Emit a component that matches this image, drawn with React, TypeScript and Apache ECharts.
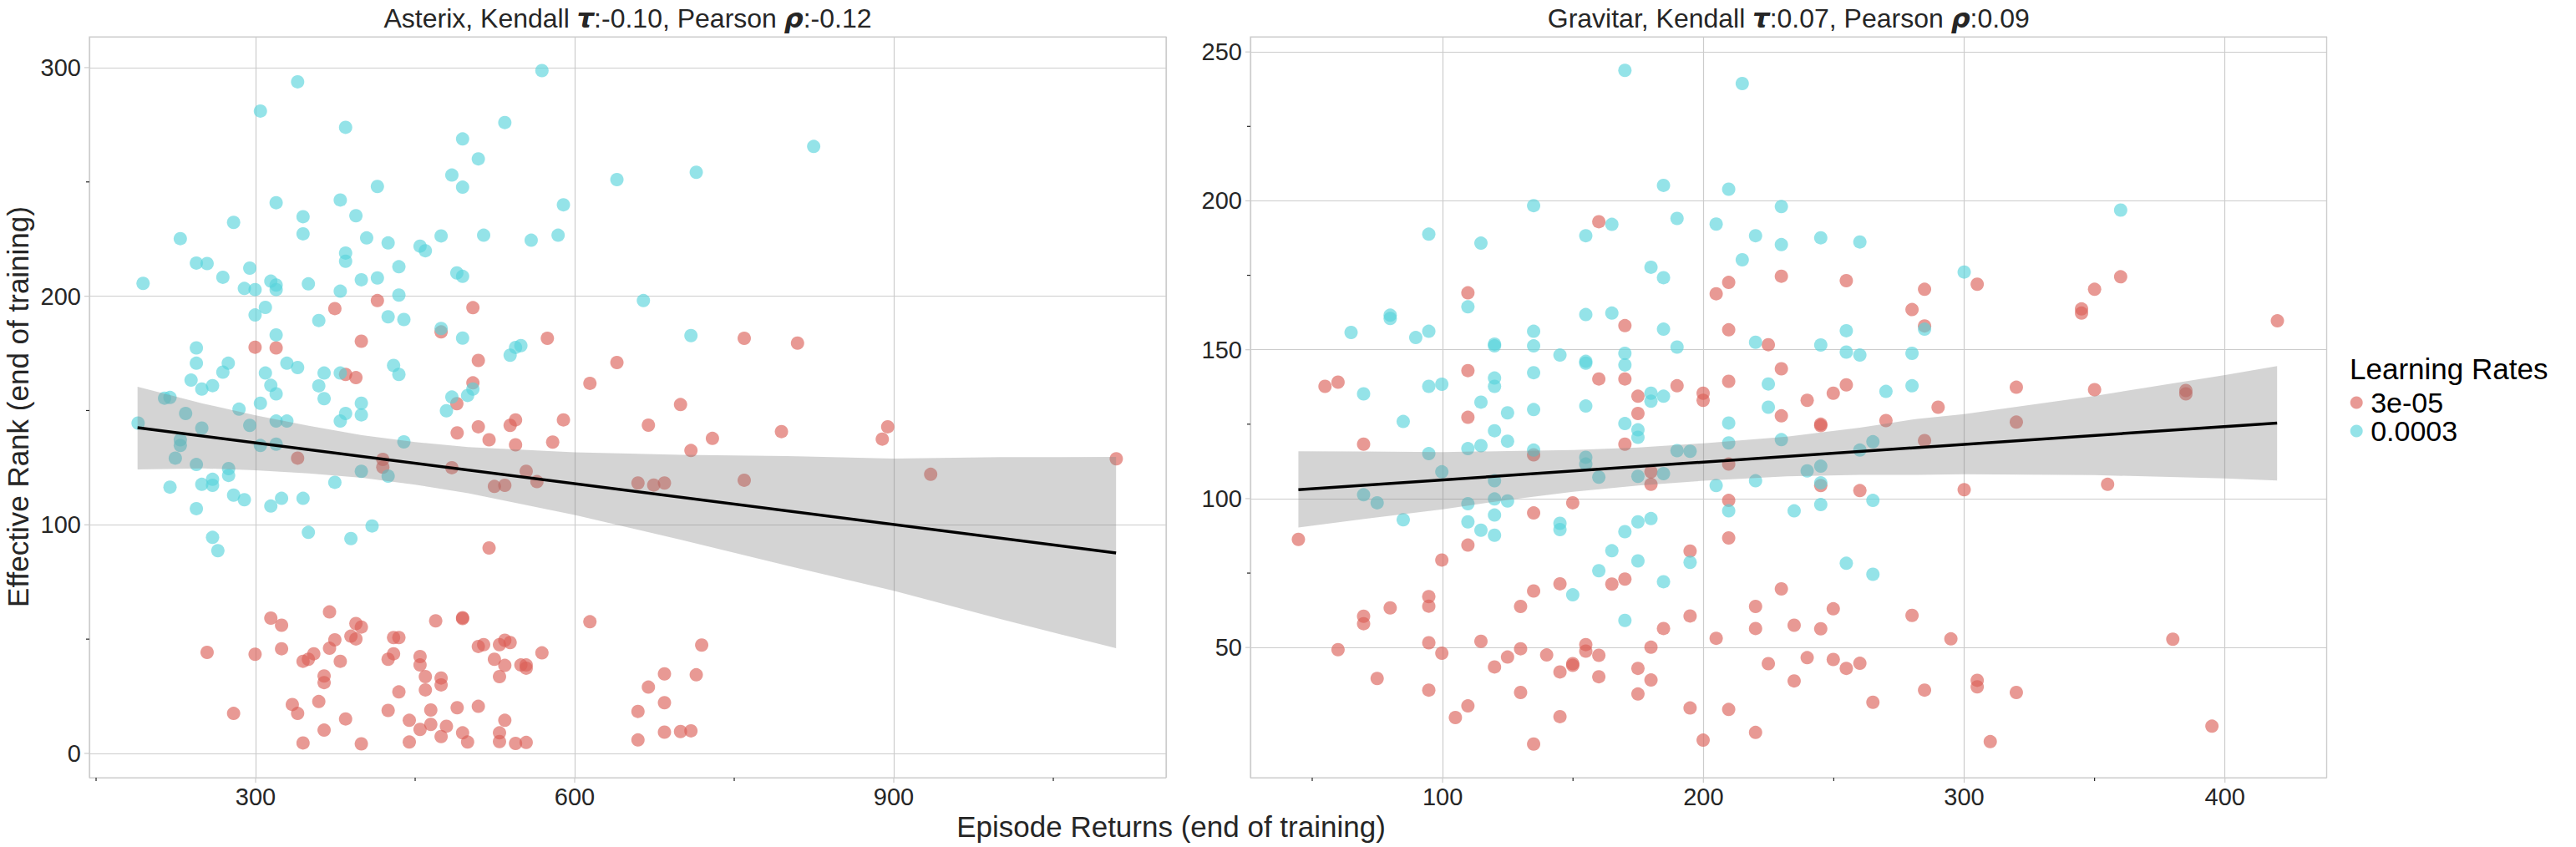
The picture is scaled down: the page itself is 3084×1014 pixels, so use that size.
import React, { useEffect, useRef } from "react";
import * as echarts from "echarts";

const FONT = '"Liberation Sans", Arial, sans-serif';
const GREEK = '"DejaVu Sans", "Liberation Sans", sans-serif';
const TXT = "#262626";
const GRID = "#cccccc";
const RED = "rgba(219,95,87,0.8)";
const CYAN = "rgba(87,211,219,0.8)";

// axis ranges
const leftXRange = [143.7, 1156];
const leftYRange = [-10.6, 313.5];
const rightXRange = [26.3, 439];
const rightYRange = [6.3, 255.1];

// tick labels
const leftXTicks = [300, 600, 900];
const leftYTicks = [0, 100, 200, 300];
const rightXTicks = [100, 200, 300, 400];
const rightYTicks = [50, 100, 150, 200, 250];
const leftXMinor = [150, 450, 750, 1050];
const leftYMinor = [50, 150, 250];
const rightXMinor = [50, 150, 250, 350];
const rightYMinor = [75, 125, 175, 225];

const legendNames = ["3e-05", "0.0003"];

// Asterix: learning rate 0.0003
const leftCyan = [
  [194.2,205.6],[229.2,225.2],[244.3,214.5],[254.4,214.3],[269.2,208.3],[279.3,232.3],[294.5,212.3],[289.4,203.4],[299.5,202.9],[304.5,281.0],
  [339.5,293.8],[319.3,240.9],[344.6,234.8],[344.6,227.3],[314.3,206.6],[319.3,204.9],[319.3,202.9],[349.6,205.4],[309.2,195.1],[299.5,191.8],
  [359.4,189.4],[319.3,183.1],[379.6,242.1],[384.6,273.9],[394.3,235.2],[404.4,225.5],[384.6,218.9],[384.6,215.3],[399.4,207.2],[379.6,202.2],
  [414.5,248.0],[414.5,208.0],[424.6,223.3],[434.7,212.9],[434.7,200.5],[424.6,191.0],[439.4,189.8],[454.6,221.9],[459.6,219.9],[474.4,226.4],
  [484.5,253.0],[494.6,268.8],[509.4,260.1],[494.6,247.7],[514.4,226.7],[489.2,210.2],[494.6,208.7],[474.4,185.9],[494.6,181.7],[534.3,276.0],
  [569.2,298.7],[559.1,224.5],[584.4,226.7],[589.4,240.0],[544.4,177.6],[549.4,178.4],[539.3,174.2],[484.5,155.9],[479.4,149.9],[499.3,156.6],
  [504.3,159.4],[429.7,169.7],[434.7,165.8],[379.6,166.4],[364.4,166.4],[359.4,160.8],[364.4,155.2],[399.4,153.2],[384.6,148.7],[399.4,148.1],
  [379.6,145.4],[304.5,153.2],[284.4,150.6],[319.3,145.4],[329.4,145.4],[314.3,161.0],[319.3,157.3],[309.2,166.4],[329.4,170.7],[339.5,168.8],
  [274.3,170.7],[269.2,166.8],[244.3,177.4],[244.3,170.7],[239.3,163.3],[249.4,159.4],[259.5,160.9],[214.4,155.4],[219.5,155.7],[234.2,148.7],
  [189.5,144.5],[249.4,142.3],[294.5,143.5],[229.2,137.2],[229.2,134.7],[224.5,129.2],[244.3,126.4],[274.6,124.6],[274.6,121.6],[259.5,119.9],
  [259.5,117.3],[249.4,117.7],[219.5,116.5],[279.3,113.0],[289.4,111.0],[244.3,107.1],[314.3,108.2],[324.4,111.6],[344.6,111.6],[304.5,134.7],
  [319.3,135.3],[374.5,118.6],[399.4,123.4],[424.6,121.3],[439.4,136.3],[409.5,99.5],[349.6,96.7],[389.6,94.0],[259.5,94.5],[264.5,88.7],
  [824.7,265.5],[714.3,254.2],[639.7,251.0],[664.6,198.1],[709.3,182.8]
];

// Asterix: learning rate 3e-05
const leftRed = [
  [374.5,194.6],[414.5,198.1],[504.3,195.0],[299.5,177.7],[319.3,177.4],[399.4,180.3],[474.4,184.4],[574.3,181.6],[509.4,171.9],[384.6,165.8],
  [394.3,164.4],[504.3,162.1],[489.2,153.0],[614.3,161.9],[544.4,145.9],[589.4,145.9],[759.4,181.6],[809.5,179.5],[639.7,171.0],[699.5,152.6],
  [339.5,129.2],[419.6,128.6],[419.6,125.2],[484.5,125.0],[489.5,140.2],[509.4,142.9],[519.5,137.2],[539.3,143.5],[544.4,135.0],[579.3,136.2],
  [554.4,123.4],[564.5,118.9],[524.5,116.8],[534.3,117.3],[519.5,89.9],[669.3,143.6],[729.5,137.8],[709.3,132.5],[794.4,140.8],[894.3,142.9],
  [889.2,137.5],[659.5,118.3],[674.3,117.4],[684.4,118.3],[759.4,119.5],[934.7,122.1],[1109.2,128.9],
  [254.4,44.2],[279.3,17.5],[299.5,43.4],[314.3,59.2],[324.4,56.1],[324.4,45.8],[334.5,21.4],[339.5,17.5],[344.6,40.3],[349.6,41.2],
  [354.7,43.6],[344.6,4.6],[359.4,22.7],[364.4,33.9],[364.4,31.0],[364.4,10.2],[369.5,46.0],[374.5,49.7],[369.5,61.9],[379.6,40.3],
  [384.6,15.1],[389.6,51.3],[394.3,56.8],[399.4,55.3],[394.3,50.1],[399.4,4.2],[424.6,41.2],[429.7,43.6],[429.7,50.7],[434.7,50.7],
  [424.6,18.8],[434.7,26.9],[444.5,14.5],[444.5,5.0],[454.6,42.4],[454.6,38.7],[459.6,33.6],[459.6,27.8],[454.6,10.5],[464.7,19.0],
  [464.7,12.7],[469.3,58.0],[474.4,33.0],[474.4,30.0],[474.4,7.4],[479.4,11.9],[489.5,20.0],[494.6,59.4],[494.6,59.0],[494.6,9.0],
  [499.3,5.0],[509.4,20.6],[509.4,46.8],[514.4,47.6],[524.5,41.2],[529.3,47.6],[534.3,49.5],[539.3,48.5],[534.3,38.5],[529.3,33.6],
  [534.3,14.5],[529.3,9.0],[529.3,5.2],[544.4,4.4],[554.4,4.8],[549.4,38.7],[554.4,38.7],[554.4,37.3],[569.2,44.0],[614.3,57.6],
  [719.4,47.4],[684.4,34.8],[714.3,34.4],[669.3,29.0],[684.4,22.2],[659.5,18.4],[659.5,5.9],[684.4,9.3],[699.5,9.6],[709.3,9.9]
];

// Gravitar: learning rate 0.0003
const rightCyan = [
  [169.9,243.8],[214.9,239.4],[184.7,205.2],[209.7,203.9],[134.9,198.4],[164.9,192.1],[189.9,194.1],[204.9,192.2],[229.9,198.1],[94.7,188.8],
  [114.7,185.8],[154.9,188.3],[220.0,188.3],[229.9,185.3],[214.9,180.2],[179.9,177.7],[184.7,174.2],[109.7,164.4],[79.9,161.6],[79.9,160.5],
  [64.9,155.8],[89.7,154.1],[94.7,156.2],[119.9,151.9],[119.9,151.3],[134.9,156.2],[134.9,151.3],[154.9,161.8],[164.9,162.3],[184.7,156.9],
  [189.9,150.9],[220.0,152.5],[145.0,148.2],[154.9,146.1],[154.9,145.5],[169.9,148.8],[169.9,144.9],[134.9,142.3],[119.9,140.5],[119.9,137.7],
  [99.7,138.4],[94.7,137.7],[69.7,135.2],[114.7,132.4],[124.9,128.8],[134.9,129.9],[154.9,131.1],[179.9,135.4],[179.9,132.7],[184.7,134.4],
  [224.9,138.5],[224.9,130.7],[245.0,187.6],[260.0,186.2],[360.0,196.9],[300.0,176.1],[254.8,156.4],[245.0,151.6],[254.8,149.2],[260.0,148.2],
  [280.0,148.8],[284.8,156.9],[270.0,136.0],[280.0,137.9],[84.9,125.9],[119.9,122.8],[124.9,119.3],[114.7,117.8],[109.7,116.8],[94.7,115.1],
  [134.9,116.3],[99.7,109.0],[154.9,113.9],[154.9,111.6],[159.9,107.2],[169.9,125.2],[174.9,123.1],[174.9,120.6],[174.9,107.5],[184.7,108.4],
  [189.9,116.1],[194.9,115.9],[209.7,125.4],[209.7,118.7],[229.9,119.8],[204.9,104.4],[220.0,106.0],[69.7,101.3],[74.9,98.6],[84.9,92.9],
  [109.7,98.3],[119.9,99.9],[124.9,99.2],[119.9,106.0],[109.7,92.2],[119.9,94.5],[114.7,89.4],[119.9,87.7],[145.0,91.7],[145.0,89.6],
  [169.9,88.9],[174.9,92.2],[179.9,93.3],[209.7,95.9],[164.9,82.5],[174.9,79.1],[194.9,78.6],[159.9,75.8],[184.7,72.1],[149.9,67.7],
  [169.9,59.1],[265.0,119.1],[260.0,116.3],[239.8,109.3],[245.0,110.9],[245.0,105.3],[234.8,95.9],[245.0,98.0],[265.0,99.4],[254.8,78.3],
  [265.0,74.6]
];

// Gravitar: learning rate 3e-05
const rightRed = [
  [159.9,193.0],[109.7,169.1],[204.9,168.8],[209.7,172.6],[229.9,174.7],[169.9,158.1],[209.7,156.7],[224.9,151.7],[109.7,143.0],[54.9,137.7],
  [59.9,139.1],[159.9,140.2],[169.9,140.2],[189.9,137.9],[209.7,139.4],[229.9,143.6],[199.9,135.4],[199.9,133.0],[174.9,134.4],[174.9,128.6],
  [229.9,127.8],[109.7,127.3],[254.8,173.2],[284.8,170.3],[305.0,172.0],[350.0,170.3],[360.0,174.5],[280.0,163.5],[345.0,163.7],[345.0,162.3],
  [284.8,158.0],[420.1,159.7],[254.8,138.2],[249.8,135.4],[239.8,133.0],[290.0,130.7],[320.0,137.4],[350.0,136.6],[385.0,136.3],[385.0,135.2],
  [69.7,118.3],[134.9,114.7],[169.9,118.3],[179.9,109.0],[179.9,104.8],[209.7,111.6],[44.7,86.3],[134.9,95.2],[149.9,98.6],[209.7,99.4],
  [209.7,86.8],[109.7,84.4],[99.7,79.4],[194.9,82.4],[145.0,71.4],[164.9,71.3],[169.9,73.0],[134.9,69.0],[229.9,69.7],[94.7,67.1],
  [94.7,63.9],[79.9,63.3],[69.7,60.5],[69.7,58.0],[129.9,63.8],[194.9,60.6],[220.0,63.8],[184.7,56.4],[220.0,56.4],[204.9,53.1],
  [59.9,49.3],[94.7,51.6],[114.7,52.1],[99.7,48.1],[129.9,49.6],[124.9,46.8],[119.9,43.5],[139.9,47.5],[154.9,51.0],[154.9,48.8],
  [159.9,47.4],[149.9,44.6],[149.9,44.0],[145.0,41.8],[159.9,40.2],[174.9,43.0],[179.9,50.1],[179.9,39.1],[224.9,44.6],[74.9,39.6],
  [94.7,35.7],[129.9,34.9],[174.9,34.4],[109.7,30.4],[104.9,26.5],[145.0,26.8],[194.9,29.7],[209.7,29.2],[220.0,21.5],[199.9,18.9],
  [134.9,17.6],[245.0,125.0],[245.0,124.5],[270.0,126.2],[320.0,125.7],[284.8,119.5],[245.0,104.4],[260.0,102.7],[300.0,103.0],[355.0,104.8],
  [249.8,63.0],[280.0,60.8],[234.8,57.5],[245.0,56.3],[294.9,52.9],[380.0,52.8],[239.8,46.6],[249.8,46.0],[254.8,43.0],[260.0,44.7],
  [234.8,38.8],[284.8,35.7],[305.0,39.0],[305.0,36.8],[320.0,34.9],[265.0,31.6],[310.0,18.4],[395.0,23.6]
];

// regression lines (end points)
const leftFit = [[189, 142.5], [1109, 87.7]];
const rightFit = [[44.7, 103.0], [420, 125.4]];

// confidence bands
const leftBandX = [189, 250, 300, 350, 400, 450, 500, 600, 700, 800, 900, 1000, 1109];
const leftBandLow = [124.2, 124.7, 123.9, 122.5, 120.6, 117.6, 113.8, 104.3, 93.4, 82.1, 71.2, 58.8, 46.0];
const leftBandHigh = [160.4, 153.1, 147.9, 143.3, 139.2, 136.2, 134.0, 131.7, 130.6, 130.1, 129.0, 129.6, 129.7];
const rightBandX = [44.7, 70, 100, 125, 150, 175, 200, 232, 260, 282, 300, 350, 400, 420];
const rightBandLow = [90.3, 93.2, 96.4, 99.6, 102.3, 104.4, 106.0, 107.5, 108.0, 108.0, 108.2, 107.9, 106.8, 106.1];
const rightBandHigh = [115.9, 115.8, 115.6, 116.0, 116.3, 117.2, 118.6, 120.8, 123.8, 126.8, 128.4, 134.5, 141.5, 144.5];

function makeBand(xs: number[], lo: number[], hi: number[]) {
  return (params: any, api: any) => {
    if (params.dataIndex !== 0) return null;
    const pts: number[][] = [];
    for (let i = 0; i < xs.length; i++) pts.push(api.coord([xs[i], hi[i]]));
    for (let i = xs.length - 1; i >= 0; i--) pts.push(api.coord([xs[i], lo[i]]));
    return { type: "polygon", shape: { points: pts }, style: { fill: "rgba(128,128,128,0.34)" } };
  };
}

function tickSeries(idx: number, dir: "x" | "y", major: number[], minor: number[], other: number) {
  const data = [
    ...major.map((v) => (dir === "x" ? [v, other, 0] : [other, v, 0])),
    ...minor.map((v) => (dir === "x" ? [v, other, 1] : [other, v, 1])),
  ];
  return {
    type: "custom",
    xAxisIndex: idx,
    yAxisIndex: idx,
    clip: false,
    silent: true,
    z: 5,
    data,
    renderItem: (params: any, api: any) => {
      const isMinor = api.value(2) === 1;
      const p = api.coord([api.value(0), api.value(1)]);
      const len = isMinor ? 4 : 6;
      const shape = dir === "x"
        ? { x1: p[0], y1: p[1], x2: p[0], y2: p[1] + len }
        : { x1: p[0] - len, y1: p[1], x2: p[0], y2: p[1] };
      return {
        type: "line",
        shape,
        style: { stroke: isMinor ? TXT : GRID, lineWidth: isMinor ? 1.2 : 1.2 },
      };
    },
  };
}

function labelFmt(ticks: number[]) {
  return (v: number) => (ticks.some((t) => Math.abs(t - v) < 1e-6) ? String(v) : "");
}

function xAxisCfg(idx: number, range: number[], ticks: number[]) {
  return {
    type: "value",
    gridIndex: idx,
    min: range[0],
    max: range[1],
    splitNumber: 3,
    axisLine: { show: false },
    axisTick: { show: false },
    splitLine: { show: true, lineStyle: { color: GRID, width: 1.2 } },
    axisLabel: { formatter: labelFmt(ticks), margin: 8, fontSize: 29, color: TXT, fontFamily: FONT },
  };
}

function yAxisCfg(idx: number, range: number[], ticks: number[], split: number) {
  return {
    type: "value",
    gridIndex: idx,
    min: range[0],
    max: range[1],
    splitNumber: split,
    axisLine: { show: false },
    axisTick: { show: false },
    splitLine: { show: true, lineStyle: { color: GRID, width: 1.2 } },
    axisLabel: { formatter: labelFmt(ticks), margin: 10, fontSize: 29, color: TXT, fontFamily: FONT },
  };
}

function scatter(idx: number, name: string, data: number[][], color: string) {
  return {
    type: "scatter",
    name,
    xAxisIndex: idx,
    yAxisIndex: idx,
    data,
    symbol: "circle",
    symbolSize: 16,
    itemStyle: { color },
    silent: true,
    z: 2,
  };
}

function titleText(x: number, game: string, tau: string, rho: string) {
  return {
    type: "text",
    x,
    y: 22,
    silent: true,
    style: {
      text: `{n|${game}, Kendall }{g|τ}{n|:${tau}, Pearson }{g|ρ}{n|:${rho}}`,
      align: "center",
      verticalAlign: "middle",
      rich: {
        n: { fontSize: 32, fontFamily: FONT, fill: TXT },
        g: { fontSize: 32, fontFamily: GREEK, fontWeight: "bold", fontStyle: "italic", fill: TXT },
      },
    },
  };
}

export default function App() {
  const ref = useRef<HTMLDivElement>(null);
  useEffect(() => {
    if (!ref.current) return;
    const chart = echarts.init(ref.current, null, { renderer: "svg" });
    const option: any = {
      animation: false,
      backgroundColor: "#ffffff",
      grid: [
        { left: 107, top: 44, width: 1289, height: 887, show: true, borderColor: GRID, borderWidth: 1.2, backgroundColor: "transparent" },
        { left: 1497, top: 44, width: 1288.5, height: 887, show: true, borderColor: GRID, borderWidth: 1.2, backgroundColor: "transparent" },
      ],
      xAxis: [xAxisCfg(0, leftXRange, leftXTicks), xAxisCfg(1, rightXRange, rightXTicks)],
      yAxis: [yAxisCfg(0, leftYRange, leftYTicks, 3), yAxisCfg(1, rightYRange, rightYTicks, 5)],
      legend: {
        data: legendNames,
        orient: "vertical",
        left: 2813.7,
        top: 465,
        itemWidth: 24,
        itemHeight: 15,
        itemGap: 0,
        icon: "circle",
        selectedMode: false,
        padding: 0,
        textStyle: { fontSize: 34, color: "#000000", fontFamily: FONT, lineHeight: 34 },
      },
      graphic: [
        titleText(751.5, "Asterix", "-0.10", "-0.12"),
        titleText(2141.25, "Gravitar", "0.07", "0.09"),
        {
          type: "text",
          x: 21,
          y: 487,
          rotation: Math.PI / 2,
          silent: true,
          style: { text: "Effective Rank (end of training)", fontSize: 35, fontFamily: FONT, fill: TXT, align: "center", verticalAlign: "middle" },
        },
        {
          type: "text",
          x: 1402,
          y: 989.5,
          silent: true,
          style: { text: "Episode Returns (end of training)", fontSize: 35, fontFamily: FONT, fill: TXT, align: "center", verticalAlign: "middle" },
        },
        {
          type: "text",
          x: 2813,
          y: 441,
          silent: true,
          style: { text: "Learning Rates", fontSize: 35, fontFamily: FONT, fill: "#000000", align: "left", verticalAlign: "middle" },
        },
      ],
      series: [
        scatter(0, legendNames[0], leftRed, RED),
        scatter(0, legendNames[1], leftCyan, CYAN),
        scatter(1, legendNames[0], rightRed, RED),
        scatter(1, legendNames[1], rightCyan, CYAN),
        {
          type: "custom", name: "bandL", xAxisIndex: 0, yAxisIndex: 0, silent: true, z: 3, clip: false,
          data: [[leftBandX[0], leftBandLow[0]]], renderItem: makeBand(leftBandX, leftBandLow, leftBandHigh),
        },
        {
          type: "custom", name: "bandR", xAxisIndex: 1, yAxisIndex: 1, silent: true, z: 3, clip: false,
          data: [[rightBandX[0], rightBandLow[0]]], renderItem: makeBand(rightBandX, rightBandLow, rightBandHigh),
        },
        {
          type: "line", name: "fitL", xAxisIndex: 0, yAxisIndex: 0, data: leftFit, showSymbol: false, symbol: "none",
          lineStyle: { color: "#000000", width: 3.5 }, silent: true, z: 4,
        },
        {
          type: "line", name: "fitR", xAxisIndex: 1, yAxisIndex: 1, data: rightFit, showSymbol: false, symbol: "none",
          lineStyle: { color: "#000000", width: 3.5 }, silent: true, z: 4,
        },
        tickSeries(0, "x", leftXTicks, leftXMinor, leftYRange[0]),
        tickSeries(0, "y", leftYTicks, leftYMinor, leftXRange[0]),
        tickSeries(1, "x", rightXTicks, rightXMinor, rightYRange[0]),
        tickSeries(1, "y", rightYTicks, rightYMinor, rightXRange[0]),
      ],
    };
    chart.setOption(option);
    return () => chart.dispose();
  }, []);
  return (
    <div
      ref={ref}
      style={{ position: "absolute", left: 0, top: 0, width: 3084, height: 1014 }}
    />
  );
}
